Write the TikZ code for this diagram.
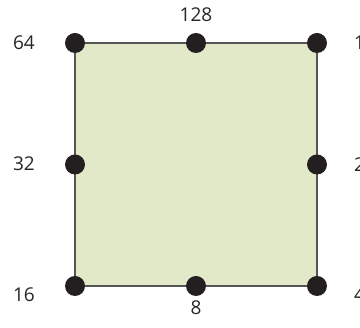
\documentclass[tikz,border=0pt]{standalone}
\usepackage{fontspec}
\setmainfont{Open Sans}
\definecolor{fillgreen}{RGB}{226,233,201}
\definecolor{edgegray}{RGB}{85,85,85}
\definecolor{dotblack}{RGB}{35,31,32}
\begin{document}
\begin{tikzpicture}[x=1pt,y=-1pt,
  dot/.style={circle,fill=dotblack,inner sep=0pt,minimum size=20pt},
  lbl/.style={font=\fontsize{19}{22}\selectfont,text=black!85,inner sep=0pt}]
\useasboundingbox (0,0) rectangle (360,328);
\path[clip] (0,0) rectangle (360,328);
\coordinate (tl) at (75,43);
\coordinate (tr) at (317,43);
\coordinate (br) at (317,286);
\coordinate (bl) at (75,286);
\draw[edgegray,line width=1.4pt,fill=fillgreen] (tl) -- (tr) -- (br) -- (bl) -- cycle;
\node[dot] (d64) at (tl) {};
\node[dot] (d128) at (196,43) {};
\node[dot] (d1) at (tr) {};
\node[dot] (d32) at (75,164.5) {};
\node[dot] (d2) at (317,164.5) {};
\node[dot] (d16) at (bl) {};
\node[dot] (d8) at (196,286) {};
\node[dot] (d4) at (br) {};
\node[lbl,anchor=east] (l64) at (35,43) {64};
\node[lbl] (l128) at (196,15) {128};
\node[lbl,anchor=west] (l1) at (354,43) {1};
\node[lbl,anchor=east] (l32) at (35,164) {32};
\node[lbl,anchor=west] (l2) at (354,165) {2};
\node[lbl,anchor=east] (l16) at (35,295) {16};
\node[lbl] (l8) at (196,308) {8};
\node[lbl,anchor=west] (l4) at (354,295) {4};
\end{tikzpicture}
\end{document}
